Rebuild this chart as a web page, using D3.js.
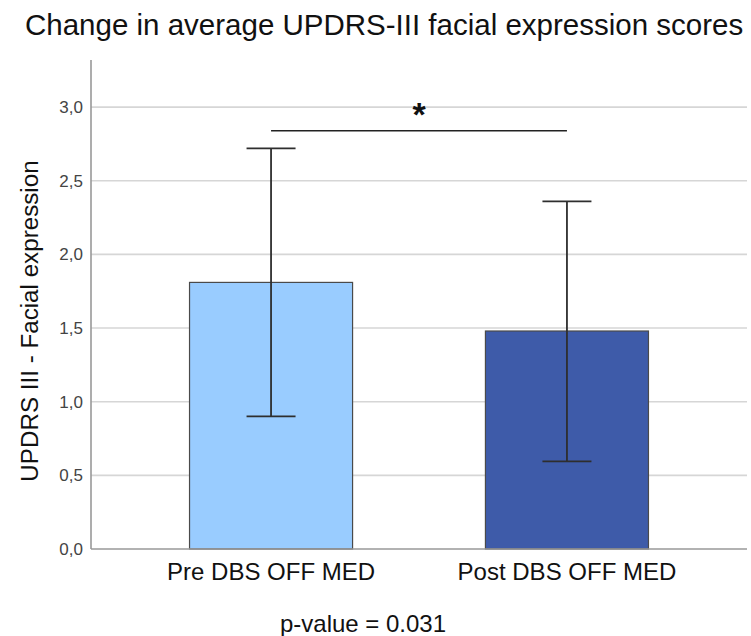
<!DOCTYPE html>
<html>
<head>
<meta charset="utf-8">
<script src="https://cdn.jsdelivr.net/npm/d3@7"></script>
<style>
  html, body { margin: 0; padding: 0; background: #fff; }
  svg { display: block; font-family: "Liberation Sans", Arial, sans-serif; }
</style>
</head>
<body>
<svg id="chart" width="751" height="636"></svg>
<script>
// Group means with error bar bounds
const categories = ["Pre DBS OFF MED", "Post DBS OFF MED"];
const means = [1.81, 1.48];
const errLow = [0.90, 0.595];
const errHigh = [2.72, 2.36];
const barColors = ["#99ccff", "#3e5ba9"];
const yTicks = [0, 0.5, 1.0, 1.5, 2.0, 2.5, 3.0];
const yTickLabels = ["0,0", "0,5", "1,0", "1,5", "2,0", "2,5", "3,0"];

const svg = d3.select("#chart");
const margin = { left: 91, right: 4, top: 60, bottom: 87 };
const W = 751, H = 636;

const x = d3.scaleBand()
  .domain(categories)
  .range([margin.left, W - margin.right])
  .paddingInner(0.449)
  .paddingOuter(0.333);

const y = d3.scaleLinear()
  .domain([0, 3.32])
  .range([H - margin.bottom, margin.top]);

// Title
svg.append("text")
  .attr("x", 25).attr("y", 34.5)
  .attr("text-anchor", "start")
  .attr("font-size", 29.5)
  .attr("fill", "#111")
  .text("Change in average UPDRS-III facial expression scores");

// Gridlines
svg.append("g")
  .selectAll("line")
  .data(yTicks.filter(d => d > 0))
  .join("line")
  .attr("x1", margin.left).attr("x2", W - margin.right)
  .attr("y1", d => y(d)).attr("y2", d => y(d))
  .attr("stroke", "#d6d6d6").attr("stroke-width", 1.6);

// Y axis
const yAxis = d3.axisLeft(y)
  .tickValues(yTicks)
  .tickFormat((d, i) => yTickLabels[i])
  .tickSize(0)
  .tickPadding(8);
const gy = svg.append("g")
  .attr("transform", `translate(${margin.left},0)`)
  .call(yAxis);
gy.select(".domain").remove();
gy.selectAll("text")
  .attr("font-size", 17)
  .attr("fill", "#444")
  .attr("font-family", "'Liberation Sans', Arial, sans-serif");

// Axis lines
svg.append("line")
  .attr("x1", margin.left).attr("x2", margin.left)
  .attr("y1", margin.top).attr("y2", y(0))
  .attr("stroke", "#999").attr("stroke-width", 1.6);

// Bars
svg.append("g")
  .selectAll("rect")
  .data(categories)
  .join("rect")
  .attr("x", d => x(d))
  .attr("width", x.bandwidth())
  .attr("y", (d, i) => y(means[i]))
  .attr("height", (d, i) => y(0) - y(means[i]))
  .attr("fill", (d, i) => barColors[i])
  .attr("stroke", "#4a4a4a")
  .attr("stroke-width", 1.2);

svg.append("line")
  .attr("x1", margin.left).attr("x2", W - margin.right)
  .attr("y1", y(0)).attr("y2", y(0))
  .attr("stroke", "#999").attr("stroke-width", 1.6);

// Error bars
const capHalf = 24.5;
const eb = svg.append("g").attr("stroke", "#2e2e2e").attr("stroke-width", 1.8);
categories.forEach((c, i) => {
  const cx = x(c) + x.bandwidth() / 2;
  eb.append("line").attr("x1", cx).attr("x2", cx).attr("y1", y(errHigh[i])).attr("y2", y(errLow[i]));
  eb.append("line").attr("x1", cx - capHalf).attr("x2", cx + capHalf).attr("y1", y(errHigh[i])).attr("y2", y(errHigh[i]));
  eb.append("line").attr("x1", cx - capHalf).attr("x2", cx + capHalf).attr("y1", y(errLow[i])).attr("y2", y(errLow[i]));
});

// X category labels
svg.append("g")
  .selectAll("text")
  .data(categories)
  .join("text")
  .attr("x", d => x(d) + x.bandwidth() / 2)
  .attr("y", 580)
  .attr("text-anchor", "middle")
  .attr("font-size", 24)
  .attr("fill", "#111")
  .text(d => d);

// Y axis title
svg.append("text")
  .attr("transform", `translate(38,321) rotate(-90)`)
  .attr("text-anchor", "middle")
  .attr("font-size", 24.2)
  .attr("fill", "#111")
  .text("UPDRS III - Facial expression");

// Significance bracket
const sigY = 2.84;
const cx0 = x(categories[0]) + x.bandwidth() / 2;
const cx1 = x(categories[1]) + x.bandwidth() / 2;
svg.append("line")
  .attr("x1", cx0).attr("x2", cx1)
  .attr("y1", y(sigY)).attr("y2", y(sigY))
  .attr("stroke", "#222").attr("stroke-width", 1.4);
svg.append("text")
  .attr("x", (cx0 + cx1) / 2)
  .attr("y", 126)
  .attr("text-anchor", "middle")
  .attr("font-size", 34)
  .attr("font-weight", "bold")
  .attr("fill", "#111")
  .text("*");

// p-value note
svg.append("text")
  .attr("x", 363).attr("y", 632)
  .attr("text-anchor", "middle")
  .attr("font-size", 24)
  .attr("fill", "#111")
  .text("p-value = 0.031");
</script>
</body>
</html>
